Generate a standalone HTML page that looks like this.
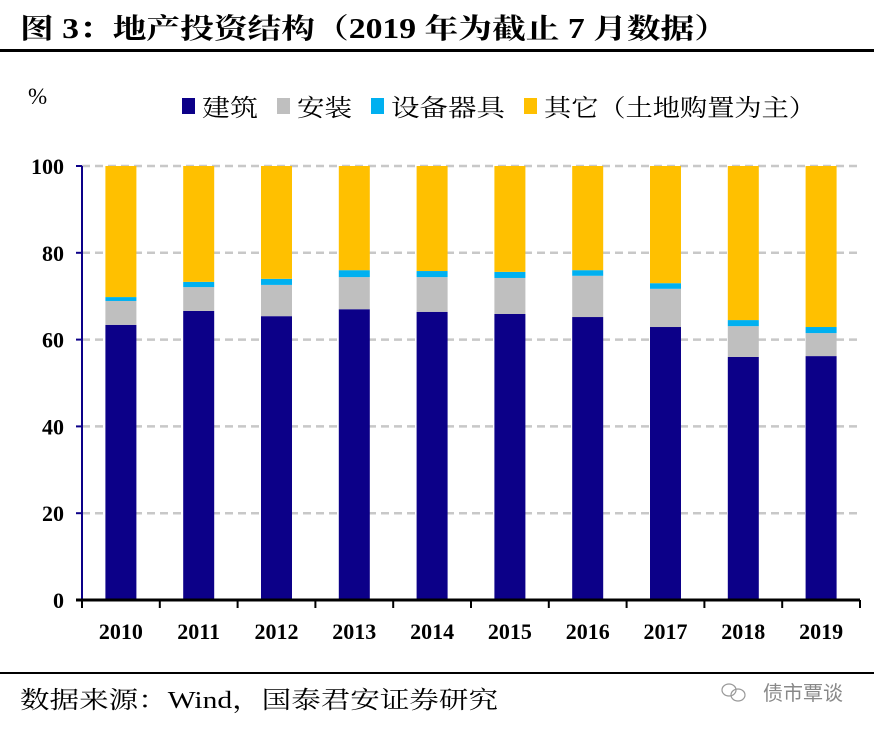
<!DOCTYPE html>
<html><head><meta charset="utf-8"><style>
body{margin:0;background:#fff;width:874px;height:726px;overflow:hidden;font-family:"Liberation Serif","Noto Serif CJK SC",serif;}
</style></head><body>
<svg width="874" height="726" xmlns="http://www.w3.org/2000/svg">
<text x="20" y="38" font-size="28" font-weight="bold" textLength="708" lengthAdjust="spacingAndGlyphs" font-family="Liberation Serif, Noto Serif CJK SC, serif">图 3：地产投资结构（2019 年为截止 7 月数据）</text>
<rect x="0" y="49" width="874" height="3" fill="#000"/>
<text x="28" y="104" font-size="23">%</text>
<g id="legend" font-size="24" font-family="Liberation Serif, Noto Serif CJK SC, serif">
<g><rect x="182" y="98" width="13" height="16" fill="#0c0088"/><text x="202" y="116" textLength="56" lengthAdjust="spacingAndGlyphs">建筑</text></g>
<g><rect x="277" y="98" width="13" height="16" fill="#bfbfbf"/><text x="297" y="116" textLength="55" lengthAdjust="spacingAndGlyphs">安装</text></g>
<g><rect x="371" y="98" width="13" height="16" fill="#00b0f0"/><text x="391" y="116" textLength="114" lengthAdjust="spacingAndGlyphs">设备器具</text></g>
<g><rect x="524" y="98" width="13" height="16" fill="#ffc000"/><text x="544" y="116" textLength="272" lengthAdjust="spacingAndGlyphs">其它（土地购置为主）</text></g>
</g>
<g id="grid"></g>
<g id="bars"></g>
<g id="axes"></g>
<rect x="0" y="672" width="874" height="2" fill="#000"/>
<text x="20" y="708" font-size="24" textLength="478" lengthAdjust="spacingAndGlyphs">数据来源：Wind，国泰君安证券研究</text>
<g fill="none" stroke="#999" stroke-width="1.2">
<ellipse cx="729" cy="690" rx="7" ry="6"/><ellipse cx="738" cy="695" rx="7" ry="6"/>
</g>
<text x="763" y="700" font-size="20" fill="#888" font-family="Noto Sans CJK SC, sans-serif">债市覃谈</text>
</svg>
<script>
const categories=["2010","2011","2012","2013","2014","2015","2016","2017","2018","2019"];
const construction=[63.4,66.6,65.4,67.0,66.4,65.9,65.2,62.9,56.0,56.2];
const installation=[5.5,5.5,7.2,7.4,8.0,8.3,9.5,8.8,7.1,5.3];
const equipment=[0.9,1.2,1.4,1.6,1.4,1.4,1.3,1.3,1.4,1.4];
const yTicks=[0,20,40,60,80,100];
const NS="http://www.w3.org/2000/svg";
const X0=82,X1=860,Y0=600,Y100=166;
const y=v=>Y0-(Y0-Y100)*v/100;
const step=(X1-X0)/categories.length;
const xc=i=>X0+step*(i+0.5);
const BW=31;
function mk(t,a,p){const e=document.createElementNS(NS,t);for(const k in a)e.setAttribute(k,a[k]);p.appendChild(e);return e;}
const grid=document.getElementById('grid'),bars=document.getElementById('bars'),axes=document.getElementById('axes');
yTicks.forEach(t=>{
 if(t>0){const l=mk('line',{x1:X0,x2:X1,y1:y(t),y2:y(t),stroke:'#c8c8c8','stroke-width':2.5,'stroke-dasharray':'8,5'},grid);
 
 }
 const tk=mk('line',{x1:X0-6,x2:X0,y1:y(t),y2:y(t),stroke:'#0c0088','stroke-width':2},axes);
 
 
 const tx=mk('text',{x:X0-18,y:y(t)+8,'text-anchor':'end','font-size':22,'font-weight':'bold'},axes);
 tx.textContent=t;
 
 
});
categories.forEach((c,i)=>{
 const segs=[[construction[i],'#0c0088','construction'],[installation[i],'#bfbfbf','installation'],[equipment[i],'#00b0f0','equipment']];
 let base=0;
 segs.push([100-construction[i]-installation[i]-equipment[i],'#ffc000','other']);
 segs.forEach(s=>{
  const r=mk('rect',{x:xc(i)-BW/2,y:y(base+s[0]),width:BW,height:y(base)-y(base+s[0]),fill:s[1]},bars);
  
  
  base+=s[0];
 });
 const tx=mk('text',{x:xc(i),y:639,'text-anchor':'middle','font-size':22,'font-weight':'bold'},axes);
 tx.textContent=c;
 
 
});
for(let i=0;i<=categories.length;i++){
 const t=mk('line',{x1:X0+step*i,x2:X0+step*i,y1:Y0,y2:Y0+8,stroke:'#000','stroke-width':2},axes);
 
 
}
const ya=mk('line',{x1:X0,x2:X0,y1:Y100,y2:Y0,stroke:'#0c0088','stroke-width':2},axes);


const xa=mk('line',{x1:X0-6,x2:X1,y1:Y0,y2:Y0,stroke:'#000','stroke-width':3},axes);


</script>
</body></html>
